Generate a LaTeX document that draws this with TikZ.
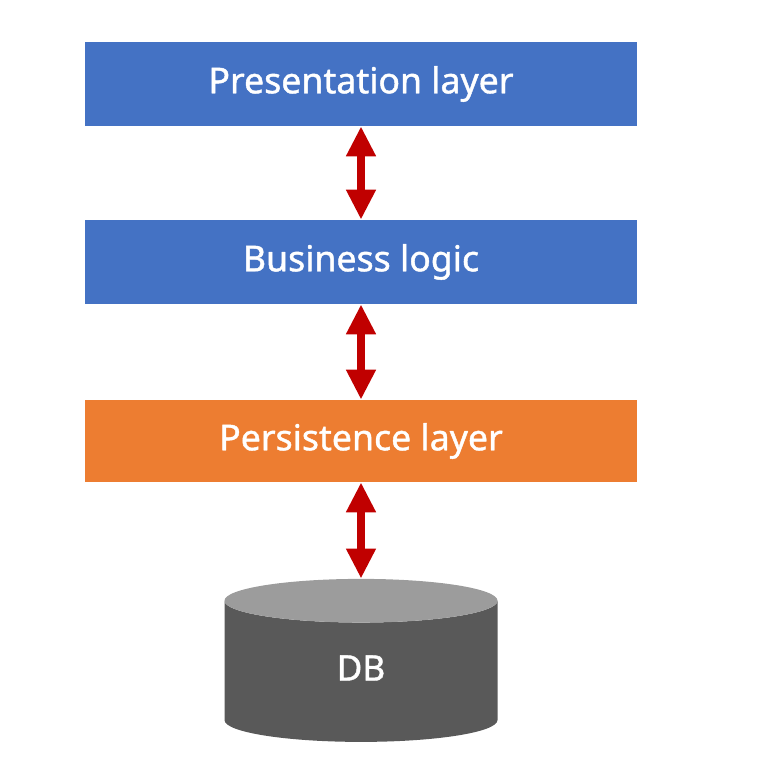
\documentclass[tikz,border=0pt]{standalone}
\usepackage{fontspec}
\setmainfont{Noto Sans}
\newfontfamily\labelfont[FakeBold=1.2]{Noto Sans}
\usetikzlibrary{arrows.meta,shapes.geometric}
\definecolor{layerblue}{HTML}{4472C4}
\definecolor{layerorange}{HTML}{ED7D31}
\definecolor{linkred}{HTML}{C00000}
\definecolor{dbside}{HTML}{595959}
\definecolor{dbtop}{HTML}{9C9C9C}
\tikzset{
	layer/.style={minimum width=11.04cm,minimum height=1.68cm,inner sep=0pt,text=white,font=\fontsize{20.3}{24}\labelfont},
	link/.style={line width=1.6mm,color=linkred,{Triangle[width=5.6mm,length=6mm]}-{Triangle[width=5.6mm,length=6mm]}},
	db/.style={shape=cylinder,shape border rotate=90,aspect=0.9,cylinder uses custom fill,cylinder body fill=dbside,cylinder end fill=dbtop,minimum width=5.46cm,minimum height=3.26cm,inner sep=0pt,text=white,font=\fontsize{20}{24}\labelfont}
}
\begin{document}
\begin{tikzpicture}[line join=round]
	\useasboundingbox (0,0) rectangle (15.52,15.28);
	\node[layer,fill=layerblue] (present) at (7.22,13.6) {Presentation layer};
	\node[layer,fill=layerblue] (logic) at (7.22,10.04) {Business logic};
	\node[layer,fill=layerorange,minimum height=1.64cm] (persist) at (7.22,6.46) {Persistence layer};
	\node[db] (database) at (7.22,1.85) {\raisebox{1.4mm}{DB}};
	\draw[link] (present.south)--(logic.north);
	\draw[link] (logic.south)--(persist.north);
	\draw[link] (persist.south)--(database.north);
\end{tikzpicture}
\end{document}
